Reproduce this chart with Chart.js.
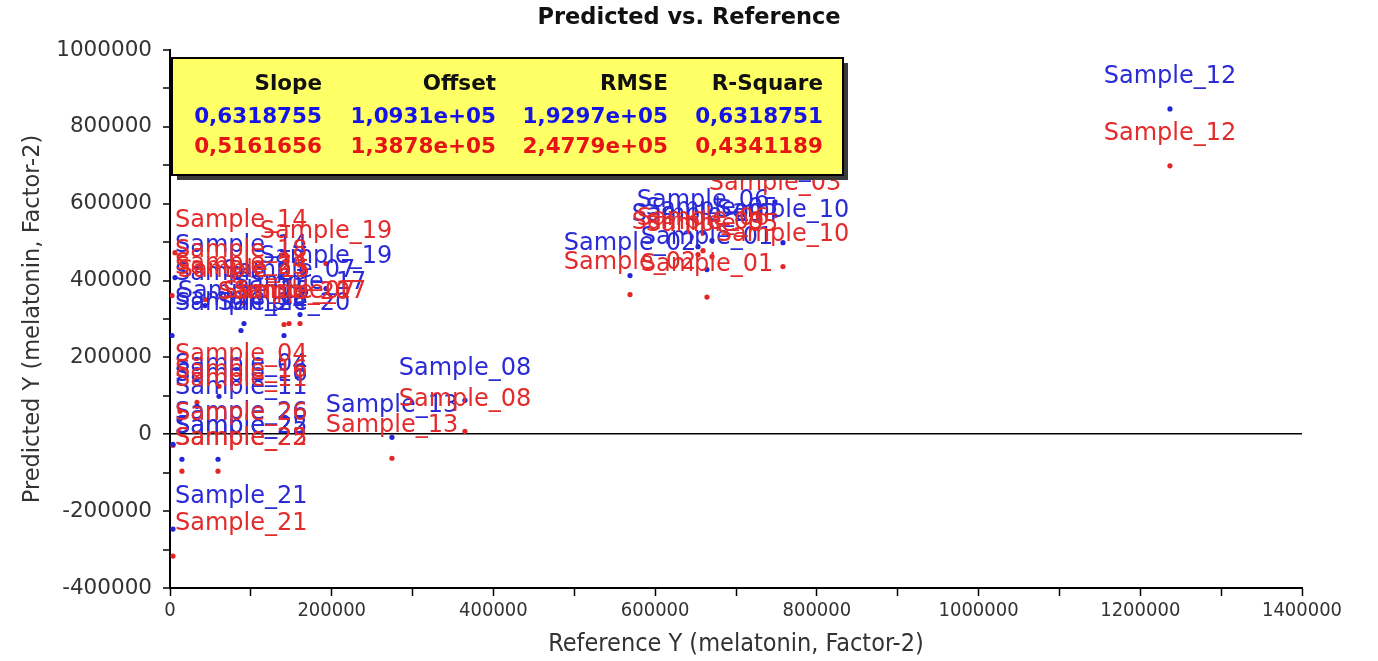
<!DOCTYPE html>
<html>
<head>
<meta charset="utf-8">
<title>Predicted vs. Reference</title>
<script src="https://cdn.jsdelivr.net/npm/chart.js@4.4.1/dist/chart.umd.min.js"></script>
<style>
  html, body { margin: 0; padding: 0; background: #fff; }
  #wrap { width: 1378px; height: 661px; }
</style>
</head>
<body>
<div id="wrap"><canvas id="predChart" width="1378" height="661"></canvas></div>
<script>
// ------------------------------
// DATA
// ------------------------------
const sampleNames = [
  "Sample_01", "Sample_02", "Sample_03", "Sample_04", "Sample_05", "Sample_06",
  "Sample_07", "Sample_08", "Sample_09", "Sample_10", "Sample_11", "Sample_12",
  "Sample_13", "Sample_14", "Sample_15", "Sample_16", "Sample_17", "Sample_18",
  "Sample_19", "Sample_20", "Sample_21", "Sample_22", "Sample_23", "Sample_24",
  "Sample_25", "Sample_26"
];
const referenceY = [
  664100, 568900, 748200, 60600, 670300, 659200,
  147200, 364800, 653000, 758100, 12400, 1236700,
  274500, 6200, 91500, 33400, 160800, 87800,
  192900, 141000, 3700, 14800, 43300, 2500,
  59400, 3700
];
// first model (blue)
const predictedBlue = [
  428500, 412900, 605100, 98700, 503800, 524600,
  342800, 88300, 488200, 498600, 39000, 846600,
  -7800, 407700, 288300, 72700, 311600, 270100,
  379200, 257100, -246700, -64900, 335000, 257100,
  -64900, -26000
];
// second model (red)
const predictedRed = [
  357000, 363600, 568700, 124700, 462300, 477800,
  288300, 7800, 467500, 436300, 59700, 698600,
  -62300, 472700, 342800, 83100, 288300, 394700,
  444100, 285700, -316800, -96100, 350600, 361000,
  -96100, -28600
];

const xMajorTicks = [0, 200000, 400000, 600000, 800000, 1000000, 1200000, 1400000];
const yMajorTicks = [-400000, -200000, 0, 200000, 400000, 600000, 800000, 1000000];

// regression summary table
const statHeaders = ["Slope", "Offset", "RMSE", "R-Square"];
const blueStats = ["0,6318755", "1,0931e+05", "1,9297e+05", "0,6318751"];
const redStats = ["0,5161656", "1,3878e+05", "2,4779e+05", "0,4341189"];

const chartTitle = "Predicted vs. Reference";

const BLUE = "#2424d8";
const RED = "#e32626";
const NARROW = '"Liberation Sans Narrow", "DejaVu Sans Condensed", "Liberation Sans", Arial, sans-serif';

// ------------------------------
// PLUGINS
// ------------------------------

// sample names over each point, kept inside the left edge
const sampleLabels = {
  id: "sampleLabels",
  afterDatasetsDraw(chart) {
    const { ctx, chartArea } = chart;
    ctx.save();
    ctx.font = '24px "DejaVu Sans"';
    ctx.textBaseline = "middle";
    ctx.textAlign = "left";
    chart.data.datasets.forEach((ds, di) => {
      const meta = chart.getDatasetMeta(di);
      ctx.fillStyle = ds.labelColor;
      meta.data.forEach((pt, i) => {
        const text = sampleNames[i];
        const w = ctx.measureText(text).width;
        let left = pt.x - w / 2;
        if (left < chartArea.left + 5) left = chartArea.left + 5;
        ctx.fillText(text, left, pt.y - 32);
      });
    });
    ctx.restore();
  }
};

// page title + yellow stats box in the upper left corner
const statsBox = {
  id: "statsBox",
  afterDraw(chart) {
    const { ctx, chartArea, width } = chart;

    ctx.save();
    ctx.font = 'bold 22.5px "DejaVu Sans"';
    ctx.fillStyle = "#111";
    ctx.textAlign = "center";
    ctx.textBaseline = "middle";
    ctx.fillText(chartTitle, width / 2, 18);

    const x = chartArea.left + 2;
    const y = chartArea.top + 8;
    const w = 671;
    const h = 117;
    ctx.fillStyle = "#3a3a3a";
    ctx.fillRect(x + 5, y + 5, w, h);
    ctx.fillStyle = "#ffff66";
    ctx.fillRect(x, y, w, h);
    ctx.strokeStyle = "#000";
    ctx.lineWidth = 2;
    ctx.strokeRect(x, y, w, h);

    const colRight = [150, 324, 496, 651];
    ctx.font = 'bold 21.5px "DejaVu Sans"';
    ctx.textAlign = "right";
    const rows = [
      { cells: statHeaders, color: "#111", dy: 26 },
      { cells: blueStats, color: "#1414e6", dy: 59 },
      { cells: redStats, color: "#e61414", dy: 89 }
    ];
    rows.forEach(row => {
      ctx.fillStyle = row.color;
      row.cells.forEach((txt, c) => ctx.fillText(txt, x + colRight[c], y + row.dy));
    });
    ctx.restore();
  }
};

// ------------------------------
// CHART
// ------------------------------
const canvas = document.getElementById("predChart");

new Chart(canvas, {
  type: "scatter",
  data: {
    datasets: [
      {
        label: "Predicted",
        data: referenceY.map((v, i) => ({ x: v, y: predictedBlue[i] })),
        backgroundColor: BLUE,
        borderWidth: 0,
        pointRadius: 2.6,
        labelColor: "#2a2ad6"
      },
      {
        label: "Predicted (2)",
        data: referenceY.map((v, i) => ({ x: v, y: predictedRed[i] })),
        backgroundColor: RED,
        borderWidth: 0,
        pointRadius: 2.6,
        labelColor: "#e32b2b"
      }
    ]
  },
  options: {
    responsive: false,
    animation: false,
    events: [],
    layout: { padding: { left: 0, right: 76, top: 50, bottom: 0 } },
    plugins: {
      legend: { display: false },
      tooltip: { enabled: false },
      title: { display: false }
    },
    scales: {
      x: {
        type: "linear",
        min: xMajorTicks[0],
        max: xMajorTicks[xMajorTicks.length - 1],
        afterFit(scale) { scale.height = 73; },
        border: { display: true, color: "#000", width: 2 },
        grid: {
          drawOnChartArea: false,
          drawTicks: true,
          tickLength: 8,
          tickColor: "#000",
          tickWidth: 1.5
        },
        ticks: {
          stepSize: 100000,
          autoSkip: false,
          maxRotation: 0,
          padding: 3,
          color: "#333",
          font: { family: NARROW, size: 20 },
          callback: v => xMajorTicks.includes(Math.round(v)) ? String(Math.round(v)) : ""
        },
        title: {
          display: true,
          text: "Reference Y (melatonin, Factor-2)",
          color: "#333",
          font: { family: NARROW, size: 25 },
          padding: { top: 0, bottom: 2 }
        }
      },
      y: {
        type: "linear",
        min: yMajorTicks[0],
        max: yMajorTicks[yMajorTicks.length - 1],
        afterFit(scale) { scale.width = 170; },
        border: { display: true, color: "#000", width: 2 },
        grid: {
          drawOnChartArea: true,
          color: c => (c.tick && c.tick.value === 0 ? "#000" : "rgba(0,0,0,0)"),
          lineWidth: c => (c.tick && c.tick.value === 0 ? 1.6 : 0),
          drawTicks: true,
          tickLength: 7,
          tickColor: "#000",
          tickWidth: 1.5
        },
        ticks: {
          stepSize: 100000,
          autoSkip: false,
          padding: 11,
          color: "#333",
          font: { family: "DejaVu Sans", size: 21.5 },
          callback: v => yMajorTicks.includes(Math.round(v)) ? String(Math.round(v)) : ""
        },
        title: {
          display: true,
          text: "Predicted Y (melatonin, Factor-2)",
          color: "#333",
          font: { family: "DejaVu Sans", size: 22.5 },
          padding: { top: 20, bottom: 0 }
        }
      }
    }
  },
  plugins: [sampleLabels, statsBox]
});
</script>
</body>
</html>
